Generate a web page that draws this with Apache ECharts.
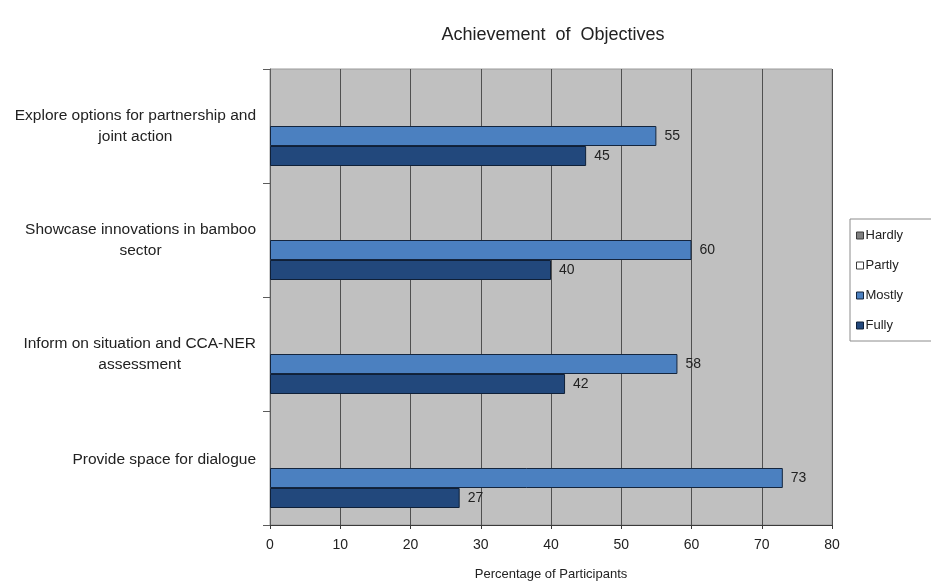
<!DOCTYPE html>
<html>
<head>
<meta charset="utf-8">
<script src="https://cdn.jsdelivr.net/npm/echarts@6/dist/echarts.min.js"></script>
<style>
  html, body { margin: 0; padding: 0; background: #ffffff; }
  #chart { width: 931px; height: 586px; }
</style>
</head>
<body>
<div id="chart"></div>
<script>
// Objectives, listed bottom to top along the category axis
const categories = [
  'Provide space for dialogue',
  'Inform on situation and CCA-NER\nassessment',
  'Showcase innovations in bamboo\nsector',
  'Explore options for partnership and\njoint action'
];
const seriesNames = ['Hardly', 'Partly', 'Mostly', 'Fully'];
const hardlyValues = [0, 0, 0, 0];
const partlyValues = [0, 0, 0, 0];
const mostlyValues = [73, 58, 60, 55];
const fullyValues = [27, 42, 40, 45];
const xTicks = [0, 10, 20, 30, 40, 50, 60, 70, 80];

const FONT = '"Liberation Sans", Arial, sans-serif';
const TEXT = '#222222';

const COLORS = {
  Hardly: { fill: '#808080', border: '#3a3a3a' },
  Partly: { fill: '#ffffff', border: '#3a3a3a' },
  Mostly: { fill: '#4b80c0', border: '#14253d' },
  Fully:  { fill: '#22487c', border: '#0f2038' }
};

const chart = echarts.init(document.getElementById('chart'), null, { renderer: 'canvas' });

function barSeries(name, values, showLabel) {
  return {
    name: name,
    type: 'bar',
    data: values,
    barWidth: 20,
    barGap: '0%',
    itemStyle: { color: COLORS[name].fill, borderColor: COLORS[name].border, borderWidth: showLabel ? 1 : 0 },
    label: {
      show: showLabel,
      position: 'right',
      distance: 8,
      color: TEXT,
      fontFamily: FONT,
      fontSize: 14
    },
    emphasis: { disabled: true }
  };
}

chart.setOption({
  animation: false,
  backgroundColor: '#ffffff',
  title: {
    text: 'Achievement  of  Objectives',
    left: 548,
    top: 21,
    textAlign: 'center',
    textStyle: { fontFamily: FONT, fontSize: 18, fontWeight: 'normal', color: TEXT }
  },
  legend: {
    orient: 'vertical',
    left: 850,
    top: 219,
    data: seriesNames.map(function (n) {
      return {
        name: n,
        icon: 'rect',
        itemStyle: { color: COLORS[n].fill, borderColor: COLORS[n].border, borderWidth: 1 }
      };
    }),
    itemWidth: 7,
    itemHeight: 7,
    itemGap: 17,
    padding: [10, 30, 9, 6],
    borderColor: '#8c8c8c',
    borderWidth: 1,
    backgroundColor: '#ffffff',
    selectedMode: false,
    textStyle: { fontFamily: FONT, fontSize: 13, color: TEXT, padding: [0, 0, 0, -3] }
  },
  grid: {
    left: 270,
    right: 99,
    top: 69,
    bottom: 59,
    show: true,
    backgroundColor: '#c0c0c0',
    borderColor: '#9a9a9a',
    borderWidth: 1
  },
  xAxis: {
    type: 'value',
    min: xTicks[0],
    max: xTicks[xTicks.length - 1],
    interval: 10,
    name: 'Percentage of Participants',
    nameLocation: 'middle',
    nameGap: 43,
    nameTextStyle: { fontFamily: FONT, fontSize: 13, color: TEXT },
    axisLine: { show: true, lineStyle: { color: '#3a3a3a', width: 1 } },
    axisTick: { show: true, length: 4, lineStyle: { color: '#3a3a3a' } },
    axisLabel: { fontFamily: FONT, fontSize: 14, color: TEXT, margin: 13 },
    splitLine: { show: true, lineStyle: { color: '#505050', width: 1 } }
  },
  yAxis: {
    type: 'category',
    data: categories,
    axisLine: { show: true, lineStyle: { color: '#5c5c5c', width: 1 } },
    axisTick: { show: true, length: 7, inside: false, lineStyle: { color: '#5c5c5c' } },
    axisLabel: {
      margin: 14,
      formatter: function (v) {
        const lines = v.split('\n');
        // single-line labels sit a little above the band centre
        const style = lines.length > 1 ? 'c' : 'p';
        return lines.map(function (line) { return '{' + style + '|' + line + '}'; }).join('\n');
      },
      rich: {
        c: { align: 'center', fontFamily: FONT, fontSize: 15.5, color: TEXT, lineHeight: 21 },
        p: { align: 'center', fontFamily: FONT, fontSize: 15.5, color: TEXT, lineHeight: 21, padding: [0, 0, 16, 0] }
      }
    },
    splitLine: { show: false }
  },
  series: [
    barSeries('Hardly', hardlyValues, false),
    barSeries('Partly', partlyValues, false),
    barSeries('Mostly', mostlyValues, true),
    barSeries('Fully', fullyValues, true)
  ]
});
</script>
</body>
</html>
